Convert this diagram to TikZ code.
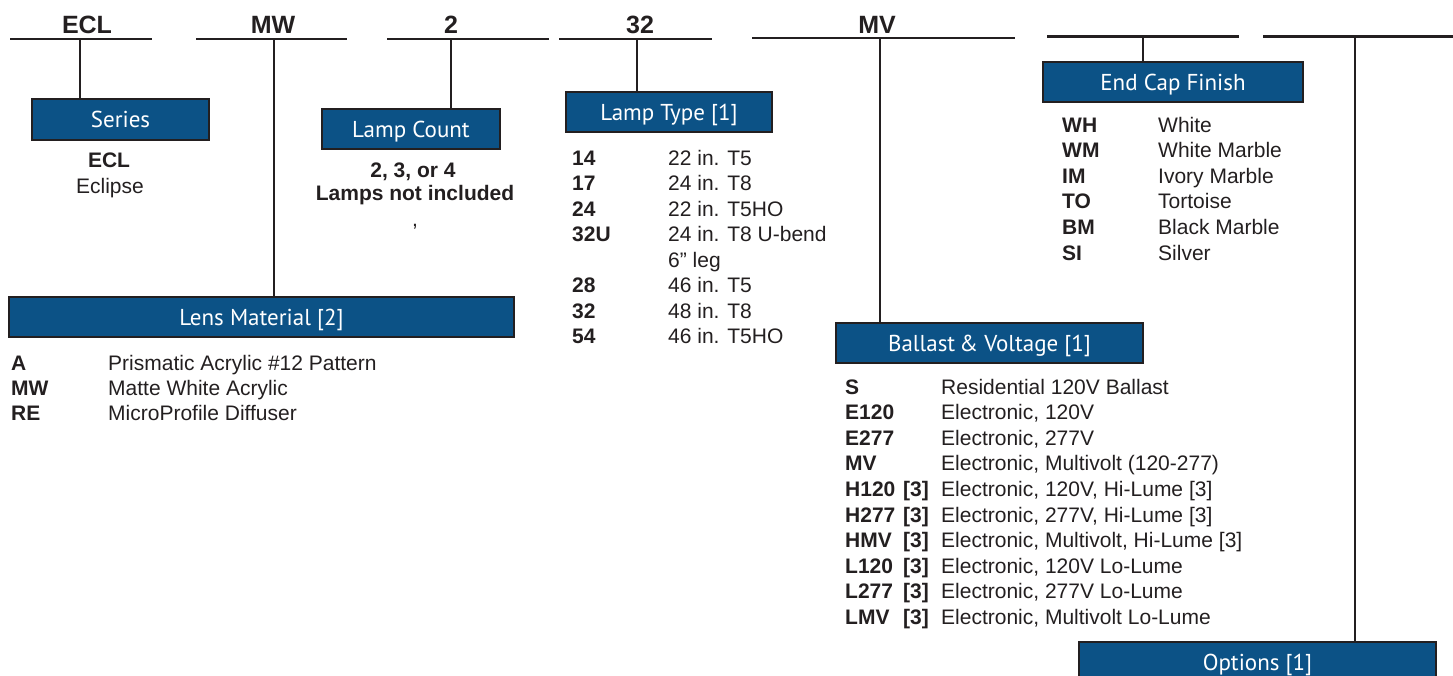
\documentclass[tikz,border=0pt]{standalone}
\usepackage{fontspec}
\setmainfont{Liberation Sans}
\newfontfamily\titlefont{PT Sans}
\definecolor{boxblue}{RGB}{12,82,134}
\definecolor{ink}{RGB}{35,31,32}
\begin{document}
\begin{tikzpicture}[x=1pt,y=-1pt,
 catbox/.style={draw=ink, line width=2.4pt, fill=boxblue, text=white,
   font=\titlefont\fontsize{23}{27}\selectfont, inner sep=0pt,
   text height=16pt, text depth=0pt},
 hdr/.style={anchor=base, font=\bfseries\fontsize{25}{30}\selectfont, text=ink, inner sep=0pt},
 rule/.style={draw=ink, line width=2.6pt},
 code/.style={anchor=base west, font=\bfseries\fontsize{21}{25}\selectfont, text=ink, inner sep=0pt},
 desc/.style={anchor=base west, font=\fontsize{21}{25}\selectfont, text=ink, inner sep=0pt},
 bnote/.style={anchor=base, font=\bfseries\fontsize{21}{25}\selectfont, text=ink, inner sep=0pt},
 note/.style={anchor=base, font=\fontsize{21}{25}\selectfont, text=ink, inner sep=0pt},
]
\path[use as bounding box, clip] (0,0) rectangle (1453,675);

% header rules
\coordinate (a1) at (10,39);   \coordinate (a2) at (152,39);
\coordinate (b1) at (196,39);  \coordinate (b2) at (347,39);
\coordinate (c1) at (387,39);  \coordinate (c2) at (549,39);
\coordinate (d1) at (559,39);  \coordinate (d2) at (712,39);
\coordinate (e1) at (752,38);  \coordinate (e2) at (1015,38);
\coordinate (f1) at (1047,36.5); \coordinate (f2) at (1239,36.5);
\coordinate (g1) at (1263,36.5); \coordinate (g2) at (1453,36.5);
\foreach \p in {a,b,c,d,e,f,g} {\draw[rule] (\p1) -- (\p2);}

% header labels
\node[hdr] (ha) at (87,33) {ECL};
\node[hdr] (hb) at (273,33) {MW};
\node[hdr] (hc) at (451,33) {2};
\node[hdr] (hd) at (640,33) {32};
\node[hdr] (he) at (877,33) {MV};

% drop points
\coordinate (ta) at (80,39);
\coordinate (tb) at (274,39);
\coordinate (tc) at (451,39);
\coordinate (td) at (637,39);
\coordinate (te) at (880,38);
\coordinate (tf) at (1143,36.5);
\coordinate (tg) at (1355,36.5);

% category boxes
\node[catbox, minimum width=177pt, minimum height=41pt] (series) at (120.5,119.5) {Series};
\node[catbox, minimum width=178pt, minimum height=40pt] (count) at (411,129) {Lamp Count};
\node[catbox, minimum width=505pt, minimum height=40pt] (lens) at (261.5,317) {Lens Material [2]};
\node[catbox, minimum width=206pt, minimum height=40pt] (ltype) at (669,112) {Lamp Type [1]};
\node[catbox, minimum width=307pt, minimum height=40pt] (ballast) at (989.5,343) {Ballast\kern-2pt{} \& Voltage [1]};
\node[catbox, minimum width=260pt, minimum height=40pt] (endcap) at (1173,82) {End Cap Finish};
\node[catbox, minimum width=357pt, minimum height=40pt] (options) at (1257.5,662) {Options [1]};

% connectors
\draw[rule] (ta) -- (ta |- series.north);
\draw[rule] (tb) -- (tb |- lens.north);
\draw[rule] (tc) -- (tc |- count.north);
\draw[rule] (td) -- (td |- ltype.north);
\draw[rule] (te) -- (te |- ballast.north);
\draw[rule] (tf) -- (tf |- endcap.north);
\draw[rule] (tg) -- (tg |- options.north);

% series
\node[bnote] (s1) at (109,167) {ECL};
\node[note] (s2) at (110,193) {Eclipse};

% lamp count
\node[bnote] (n1) at (413,177) {2, 3, or 4};
\node[bnote] (n2) at (415,200) {Lamps not included};
\node[note] (n3) at (415,226) {,};

% lens material
\foreach \c/\d [count=\i] in {A/{Prismatic Acrylic \#12 Pattern}, MW/{Matte White Acrylic}, RE/{MicroProfile Diffuser}} {
  \node[code] (lc\i) at (11,{370+25*(\i-1)}) {\c};
  \node[desc] (ld\i) at (108,{370+25*(\i-1)}) {\d};
}

% lamp type
\foreach \c/\d/\r in {14/{22 in. T5}/0, 17/{24 in. T8}/1, 24/{22 in. T5HO}/2, 32U/{24 in. T8 U-bend}/3, 28/{46 in. T5}/5, 32/{48 in. T8}/6, 54/{46 in. T5HO}/7} {
  \node[code] (tc\r) at (572,{165+25.5*\r}) {\c};
  \node[desc] (td\r) at (668,{165+25.5*\r}) {\d};
}
\node[desc] (td4) at (668,{165+25.5*4}) {6” leg};

% end cap finish
\foreach \c/\d [count=\i] in {WH/White, WM/{White Marble}, IM/{Ivory Marble}, TO/Tortoise, BM/{Black Marble}, SI/Silver} {
  \node[code] (ec\i) at (1062,{132+25.6*(\i-1)}) {\c};
  \node[desc] (ed\i) at (1158,{132+25.6*(\i-1)}) {\d};
}

% ballast
\foreach \c/\d [count=\i] in {S/{Residential 120V Ballast}, E120/{Electronic, 120V}, E277/{Electronic, 277V}, MV/{Electronic, Multivolt (120-277)}} {
  \node[code] (bc\i) at (845,{394+25.6*(\i-1)}) {\c};
  \node[desc] (bd\i) at (941,{394+25.6*(\i-1)}) {\d};
}
\foreach \c/\d [count=\i from 5] in {H120/{Electronic, 120V, Hi-Lume [3]}, H277/{Electronic, 277V, Hi-Lume [3]}, HMV/{Electronic, Multivolt, Hi-Lume [3]}, L120/{Electronic, 120V Lo-Lume}, L277/{Electronic, 277V Lo-Lume}, LMV/{Electronic, Multivolt Lo-Lume}} {
  \node[code] (bc\i) at (845,{394+25.6*(\i-1)}) {\c};
  \node[code] (bt\i) at (903,{394+25.6*(\i-1)}) {[3]};
  \node[desc] (bd\i) at (941,{394+25.6*(\i-1)}) {\d};
}
\end{tikzpicture}
\end{document}
